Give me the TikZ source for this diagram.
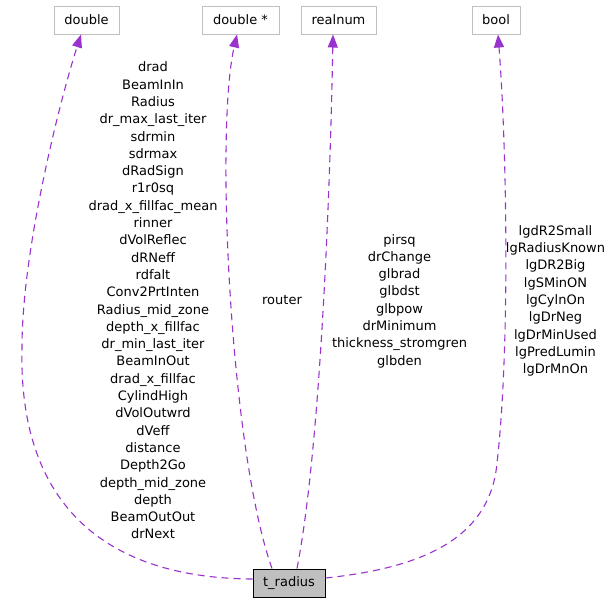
\documentclass[tikz,border=0pt]{standalone}
\usepackage{fontspec}
\setmainfont{DejaVu Sans}
\usetikzlibrary{arrows.meta}
\definecolor{edgecol}{HTML}{9A32CD}
\definecolor{boxgray}{HTML}{BFBFBF}
\tikzset{
  typebox/.style={draw=boxgray, line width=1pt, fill=white, minimum height=28pt, inner sep=0pt, font=\fontsize{13}{16}\selectfont},
  mainbox/.style={draw=black, line width=1pt, fill=boxgray, minimum height=28pt, inner sep=0pt, font=\fontsize{13}{16}\selectfont},
  edge/.style={draw=edgecol, line width=1.1pt, dash pattern=on 7pt off 5pt, -{Triangle[length=13pt,width=10pt,fill=edgecol]}},
  elabel/.style={align=center, inner sep=0pt, font=\fontsize{13}{17.3}\selectfont}
}
\begin{document}
\begin{tikzpicture}[x=1pt,y=-1pt]
\useasboundingbox (0,0) rectangle (609,603);
\node[typebox, minimum width=65pt] (dbl) at (86.5,20) {double};
\node[typebox, minimum width=77pt] (dblp) at (240.5,20) {double *};
\node[typebox, minimum width=75pt] (real) at (338.5,20) {realnum};
\node[typebox, minimum width=48pt] (bool) at (496,20) {bool};
\node[mainbox, minimum width=72pt] (t) at (289,583) {t\_radius};

\draw[edge] ([yshift=4pt]t.west) .. controls (100,578) and (18,500) .. (22,347)
  .. controls (22,250) and (60,100) .. ([xshift=-5.5pt]dbl.south);
\draw[edge] ([xshift=-17pt]t.north) .. controls (230,450) and (215,130) .. ([xshift=-3.5pt]dblp.south);
\draw[edge] ([xshift=8pt]t.north) .. controls (320,450) and (330,200) .. ([xshift=-5.5pt]real.south);
\draw[edge] ([yshift=5pt]t.east) .. controls (420,568) and (490,540) .. (497,463)
  .. controls (510,350) and (507,150) .. ([xshift=2pt]bool.south);

\node[elabel] (l1) at (153,300.5) {drad\\BeamInIn\\Radius\\dr\_max\_last\_iter\\sdrmin\\sdrmax\\dRadSign\\r1r0sq\\drad\_x\_fillfac\_mean\\rinner\\dVolReflec\\dRNeff\\rdfalt\\Conv2PrtInten\\Radius\_mid\_zone\\depth\_x\_fillfac\\dr\_min\_last\_iter\\BeamInOut\\drad\_x\_fillfac\\CylindHigh\\dVolOutwrd\\dVeff\\distance\\Depth2Go\\depth\_mid\_zone\\depth\\BeamOutOut\\drNext};
\node[elabel] (l2) at (282,300) {router};
\node[elabel] (l3) at (399.5,301) {pirsq\\drChange\\glbrad\\glbdst\\glbpow\\drMinimum\\thickness\_stromgren\\glbden};
\node[elabel] (l4) at (555.5,301) {lgdR2Small\\lgRadiusKnown\\lgDR2Big\\lgSMinON\\lgCylnOn\\lgDrNeg\\lgDrMinUsed\\lgPredLumin\\lgDrMnOn};
\end{tikzpicture}
\end{document}
